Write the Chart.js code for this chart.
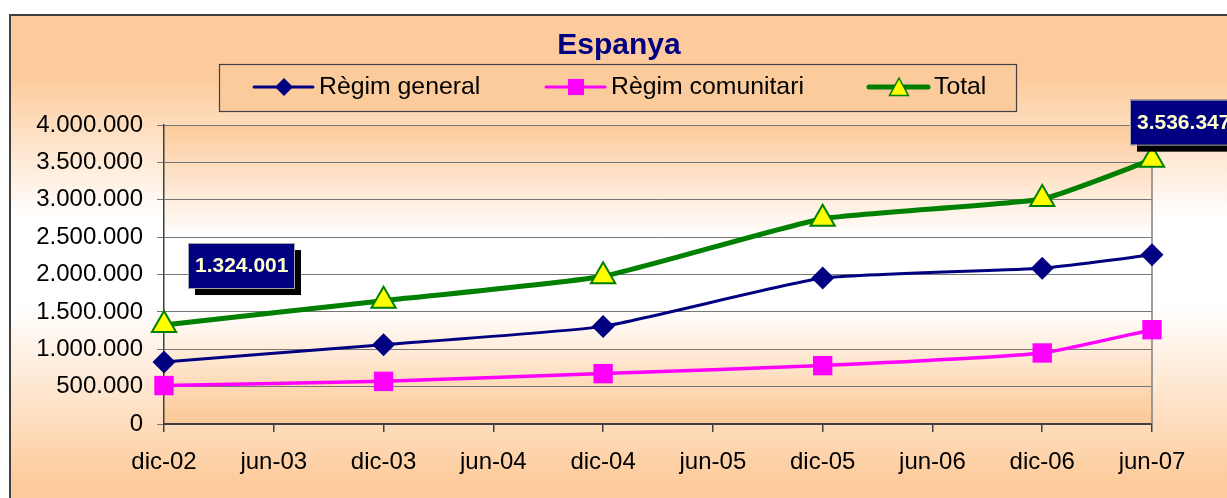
<!DOCTYPE html>
<html>
<head>
<meta charset="utf-8">
<script src="https://cdn.jsdelivr.net/npm/chart.js@4.4.1/dist/chart.umd.min.js"></script>
<style>
  html, body { margin: 0; padding: 0; background: #fff; }
  #wrap { width: 1227px; height: 498px; }
</style>
</head>
<body>
<div id="wrap"><canvas id="chart" width="1227" height="498"></canvas></div>
<script>
// Espanya — treballadors estrangers afiliats (valors llegits del gràfic)
const labels = ['dic-02', 'jun-03', 'dic-03', 'jun-04', 'dic-04', 'jun-05', 'dic-05', 'jun-06', 'dic-06', 'jun-07'];
const seriesNames = ['Règim general', 'Règim comunitari', 'Total'];
const general = [830000, null, 1061000, null, 1306000, null, 1952000, null, 2085000, 2263000];
const comunitari = [514000, null, 571000, null, 674000, null, 781000, null, 950000, 1262000];
const total = [1324001, null, 1650000, null, 1976000, null, 2746000, null, 3011000, 3536347];
const yTicks = [0, 500000, 1000000, 1500000, 2000000, 2500000, 3000000, 3500000, 4000000];

const FONT = '"Liberation Sans", Arial, sans-serif';
const ORANGE = '#fdcb9b';
const NAVY = '#000080';
const PINK = '#ff00ff';
const GREEN = '#008000';
const YELLOW = '#ffff00';

function fmt(v) {
  return String(v).replace(/\B(?=(\d{3})+(?!\d))/g, '.');
}

// marker shapes for the hand-drawn legend
function drawMarker(ctx, style, x, y, r, fill, stroke, lw) {
  ctx.beginPath();
  if (style === 'rectRot') {
    ctx.moveTo(x - r, y); ctx.lineTo(x, y - r); ctx.lineTo(x + r, y); ctx.lineTo(x, y + r);
  } else if (style === 'rect') {
    ctx.rect(x - r, y - r, 2 * r, 2 * r);
  } else {
    ctx.moveTo(x, y - r); ctx.lineTo(x + r * 1.05, y + r * 0.95); ctx.lineTo(x - r * 1.05, y + r * 0.95);
  }
  ctx.closePath();
  ctx.fillStyle = fill;
  ctx.fill();
  if (lw) { ctx.lineWidth = lw; ctx.strokeStyle = stroke; ctx.stroke(); }
}

const background = {
  id: 'background',
  beforeDraw(chart) {
    const { ctx, chartArea: a, width, height } = chart;
    ctx.save();
    ctx.fillStyle = '#fff';
    ctx.fillRect(0, 0, width, height);
    let g = ctx.createLinearGradient(0, 15, 0, height);
    g.addColorStop(0, ORANGE);
    g.addColorStop(0.13, ORANGE);
    g.addColorStop(0.42, '#fff');
    g.addColorStop(0.6, '#fff');
    g.addColorStop(0.97, ORANGE);
    ctx.fillStyle = g;
    ctx.fillRect(10, 15, width, height);
    ctx.strokeStyle = '#404040';
    ctx.lineWidth = 2;
    ctx.strokeRect(10, 15, width + 20, height + 20);

    g = ctx.createLinearGradient(0, a.top, 0, a.bottom);
    g.addColorStop(0, ORANGE);
    g.addColorStop(0.38, '#fff');
    g.addColorStop(0.62, '#fff');
    g.addColorStop(0.97, ORANGE);
    ctx.fillStyle = g;
    ctx.fillRect(a.left, a.top, a.right - a.left, a.bottom - a.top);
    ctx.restore();
  },
  beforeDatasetsDraw(chart) {
    const { ctx, chartArea: a } = chart;
    ctx.save();
    ctx.strokeStyle = '#808080';
    ctx.lineWidth = 1.5;
    ctx.beginPath();
    ctx.moveTo(a.right, a.top);
    ctx.lineTo(a.right, a.bottom);
    ctx.stroke();
    ctx.restore();
  }
};

const titleAndLegend = {
  id: 'titleAndLegend',
  afterDraw(chart) {
    const ctx = chart.ctx;
    ctx.save();
    ctx.fillStyle = NAVY;
    ctx.font = 'bold 30px ' + FONT;
    ctx.textAlign = 'center';
    ctx.textBaseline = 'alphabetic';
    ctx.fillText('Espanya', 619, 54);

    ctx.fillStyle = '#fccb9c';
    ctx.fillRect(219, 64, 797, 47);
    ctx.strokeStyle = '#404040';
    ctx.lineWidth = 1.2;
    ctx.strokeRect(219.5, 64.5, 797, 47);

    const items = [
      { x: 254, color: NAVY, lw: 3, style: 'rectRot', r: 9, fill: NAVY, stroke: NAVY, blw: 0 },
      { x: 546, color: PINK, lw: 3, style: 'rect', r: 8, fill: PINK, stroke: PINK, blw: 0 },
      { x: 869, color: GREEN, lw: 5, style: 'triangle', r: 9, fill: YELLOW, stroke: GREEN, blw: 1.5 }
    ];
    const y = 87;
    ctx.font = '24.8px ' + FONT;
    ctx.textAlign = 'left';
    items.forEach((it, i) => {
      ctx.strokeStyle = it.color;
      ctx.lineWidth = it.lw;
      ctx.lineCap = 'round';
      ctx.beginPath();
      ctx.moveTo(it.x, y);
      ctx.lineTo(it.x + 59, y);
      ctx.stroke();
      drawMarker(ctx, it.style, it.x + 30, y, it.r, it.fill, it.stroke, it.blw);
      ctx.fillStyle = '#000';
      ctx.fillText(seriesNames[i], it.x + 65, 94);
    });
    ctx.restore();
  }
};

// callout boxes on the first and last Total values
const callouts = [
  { dataset: 2, index: 0, dx: 24, dy: -82 },
  { dataset: 2, index: 9, dx: -22, dy: -60 }
];

const valueBoxes = {
  id: 'valueBoxes',
  afterDatasetsDraw(chart) {
    const ctx = chart.ctx;
    ctx.save();
    ctx.font = 'bold 21px ' + FONT;
    ctx.textBaseline = 'middle';
    ctx.textAlign = 'left';
    callouts.forEach((c) => {
      const p = chart.getDatasetMeta(c.dataset).data[c.index];
      const v = chart.data.datasets[c.dataset].data[c.index];
      const left = p.x + c.dx;
      const top = p.y + c.dy;
      const w = 106, h = 45;
      ctx.fillStyle = '#000';
      ctx.fillRect(left + 7, top + 7, w, h);
      ctx.fillStyle = NAVY;
      ctx.fillRect(left, top, w, h);
      ctx.strokeStyle = '#a8a8a8';
      ctx.lineWidth = 1;
      ctx.strokeRect(left + 0.5, top + 0.5, w, h);
      ctx.fillStyle = '#ffffcc';
      ctx.fillText(fmt(v), left + 7, top + h / 2 + 1);
    });
    ctx.restore();
  }
};

new Chart(document.getElementById('chart'), {
  type: 'line',
  data: {
    labels,
    datasets: [
      {
        label: seriesNames[0], data: general,
        borderColor: NAVY, backgroundColor: NAVY, borderWidth: 3,
        pointStyle: 'rectRot', pointRadius: 11.5, pointBorderWidth: 0, pointBackgroundColor: NAVY
      },
      {
        label: seriesNames[1], data: comunitari,
        borderColor: PINK, backgroundColor: PINK, borderWidth: 3.5,
        pointStyle: 'rect', pointRadius: 13.7, pointBorderWidth: 0, pointBackgroundColor: PINK
      },
      {
        label: seriesNames[2], data: total,
        borderColor: GREEN, backgroundColor: YELLOW, borderWidth: 5,
        pointStyle: 'triangle', pointRadius: 14, pointBorderWidth: 2,
        pointBorderColor: GREEN, pointBackgroundColor: YELLOW
      }
    ]
  },
  options: {
    responsive: false,
    animation: false,
    spanGaps: true,
    clip: false,
    layout: { padding: { top: 125, right: 75, left: 0, bottom: 0 } },
    elements: { line: { tension: 0.15 } },
    plugins: {
      legend: { display: false },
      title: { display: false },
      tooltip: { enabled: false }
    },
    scales: {
      x: {
        offset: false,
        grid: { drawOnChartArea: false, color: '#404040', tickLength: 8, lineWidth: 1.5 },
        border: { color: '#404040', width: 2 },
        ticks: { color: '#000', font: { family: FONT, size: 24 }, padding: 16, maxRotation: 0, autoSkip: false },
        afterFit(s) { s.height = 74; }
      },
      y: {
        min: yTicks[0],
        max: yTicks[yTicks.length - 1],
        afterBuildTicks(s) { s.ticks = yTicks.map((v) => ({ value: v })); },
        grid: { color: '#777', tickLength: 7, lineWidth: 1 },
        border: { color: '#404040', width: 1.5 },
        ticks: { color: '#000', font: { family: FONT, size: 24 }, padding: 14, callback: fmt },
        afterFit(s) { s.width = 164; }
      }
    }
  },
  plugins: [background, titleAndLegend, valueBoxes]
});
</script>
</body>
</html>
